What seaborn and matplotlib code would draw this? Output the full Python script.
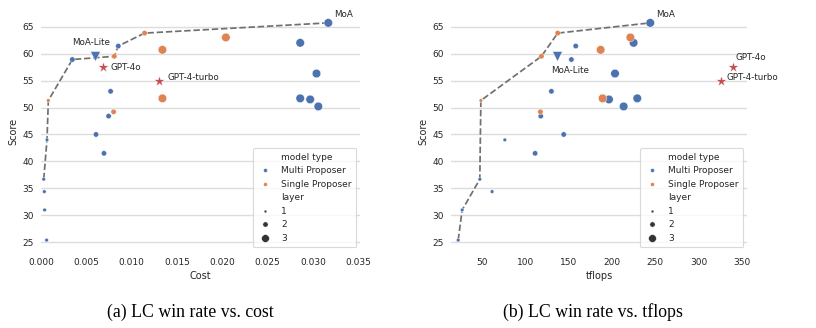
import matplotlib
matplotlib.use("Agg")
import matplotlib.pyplot as plt
from matplotlib.lines import Line2D
from matplotlib.collections import PathCollection
import numpy as np
import pandas as pd
import seaborn as sns

# AlpacaEval LC win rate of MoA configurations
score = [65.7, 62.0, 56.3, 51.7, 51.5, 50.2,
         61.4, 58.9, 53.0, 48.4, 45.0, 41.5,
         44.0, 36.7, 34.4, 31.0, 25.4,
         63.0, 60.7, 51.7, 63.8, 59.5, 49.2, 51.3]
cost = [0.0317, 0.0286, 0.0304, 0.0286, 0.0297, 0.0306,
        0.00853, 0.00346, 0.00768, 0.00746, 0.00607, 0.00695,
        0.00066, 0.00030, 0.00037, 0.00040, 0.00062,
        0.0204, 0.0134, 0.0134, 0.01143, 0.00809, 0.00801, 0.00081]
tflops = [244.2, 225.0, 203.5, 229.2, 196.5, 213.5,
          158.1, 153.1, 130.0, 117.7, 144.2, 111.2,
          76.2, 47.3, 61.5, 26.9, 22.3,
          221.2, 186.9, 189.2, 137.3, 118.5, 117.3, 48.5]
layer = [3, 3, 3, 3, 3, 3,
         2, 2, 2, 2, 2, 2,
         1, 1, 1, 1, 1,
         3, 3, 3, 2, 2, 2, 1]
model_type = ["Multi Proposer"] * 17 + ["Single Proposer"] * 7

# Reference systems
ref_names = ["MoA-Lite", "GPT-4o", "GPT-4-turbo"]
ref_score = [59.5, 57.5, 55.0]
ref_cost = [0.0060, 0.0068, 0.0130]
ref_tflops = [136.9, 339.6, 325.7]

moa_name = "MoA"
moa_idx = 0

df = pd.DataFrame({"Score": score, "Cost": cost, "tflops": tflops,
                   "layer": layer, "model type": model_type})

sns.set_theme(style="whitegrid")
plt.rcParams["font.family"] = ["DejaVu Sans"]

BLUE, ORANGE, RED = "#4C72B0", "#DD8452", "#C44E52"
TXT = "#262626"
FS_TICK, FS_LAB, FS_ANN, FS_LEG = 6.5, 7.0, 6.3, 6.5


def pareto(xs, ys):
    order = np.argsort(xs)
    fx, fy, best = [], [], -np.inf
    for i in order:
        if ys[i] > best:
            best = ys[i]
            fx.append(xs[i])
            fy.append(ys[i])
    return fx, fy


fig = plt.figure(figsize=(8.16, 3.28), dpi=100)
W, H = 816, 328
ax1 = fig.add_axes([41 / W, 1 - 251 / H, 319 / W, 239 / H])
ax2 = fig.add_axes([451 / W, 1 - 251 / H, 296 / W, 239 / H])

panels = [
    (ax1, "Cost", ref_cost, (0, 0.0352), np.arange(0, 0.0351, 0.005), "{:.3f}",
     {"MoA": (4, 3, "left", "bottom"), "MoA-Lite": (-3, 7, "center", "bottom"),
      "GPT-4o": (6, 0, "left", "center"), "GPT-4-turbo": (6, 2, "left", "center")}),
    (ax2, "tflops", ref_tflops, (14, 356), np.arange(50, 351, 50), "{:.0f}",
     {"MoA": (4, 3, "left", "bottom"), "MoA-Lite": (9, -7, "center", "top"),
      "GPT-4o": (2, 4, "left", "bottom"), "GPT-4-turbo": (4, 2, "left", "center")}),
]

legend_ms = {"Multi Proposer": 2.8, "Single Proposer": 2.8,
             "1": 2.0, "2": 3.8, "3": 5.6}

for ax, xcol, rx, xlim, xticks, fmt, offs in panels:
    fx, fy = pareto(np.array(df[xcol]), np.array(df["Score"]))
    ax.plot(fx, fy, ls="--", color="#707070", lw=1.25, zorder=1)

    sns.scatterplot(data=df, x=xcol, y="Score", hue="model type",
                    size="layer", sizes={1: 7, 2: 15, 3: 38},
                    palette=[BLUE, ORANGE], edgecolor="white", linewidth=0.3,
                    ax=ax, zorder=3)

    # MoA-Lite and proprietary baselines
    ax.scatter([rx[0]], [ref_score[0]], marker="v", s=50, color=BLUE,
               edgecolor="white", linewidth=0.3, zorder=4)
    ax.scatter(rx[1:], ref_score[1:], marker="*", s=62, color=RED,
               edgecolor="white", linewidth=0.3, zorder=4)

    labels = [(moa_name, df[xcol][moa_idx], score[moa_idx])] + \
             list(zip(ref_names, rx, ref_score))
    for name, x, y in labels:
        dx, dy, ha, va = offs[name]
        ax.annotate(name, (x, y), xytext=(dx, dy), textcoords="offset points",
                    ha=ha, va=va, fontsize=FS_ANN, color=TXT)

    ax.set_xlim(*xlim)
    ax.set_xticks(xticks)
    ax.set_xticklabels([fmt.format(v) for v in xticks])
    ax.set_yticks(np.arange(25, 66, 5))
    ax.tick_params(labelsize=FS_TICK, colors=TXT, pad=5, length=0)
    ax.set_xlabel(xcol, fontsize=FS_LAB, color=TXT, labelpad=3)
    ax.set_ylabel("Score", fontsize=FS_LAB, color=TXT, labelpad=3)
    ax.xaxis.grid(False)
    ax.yaxis.grid(True, color="#dcdcdc", lw=1.0)
    sns.despine(ax=ax, left=True, bottom=True)

    sns.move_legend(ax, "lower right", fontsize=FS_LEG, frameon=True,
                    labelspacing=0.5, handletextpad=1.0, borderpad=0.5,
                    borderaxespad=0.4, handlelength=1.6)
    leg = ax.get_legend()
    leg.get_frame().set_edgecolor("#d0d0d0")
    leg.get_frame().set_linewidth(0.8)
    for t, h in zip(leg.get_texts(), leg.legend_handles):
        t.set_color(TXT)
        ms = legend_ms.get(t.get_text())
        if ms is None or h is None:
            continue
        if isinstance(h, Line2D):
            h.set_markersize(ms)
        elif isinstance(h, PathCollection):
            h.set_sizes([ms ** 2])

cap = dict(fontsize=12.8, family="Liberation Serif", ha="center", va="center",
           color="black")
fig.text(190 / W, 1 - 312 / H, "(a) LC win rate vs. cost", **cap)
fig.text(593 / W, 1 - 312 / H, "(b) LC win rate vs. tflops", **cap)

fig.savefig("out.png", dpi=100)
